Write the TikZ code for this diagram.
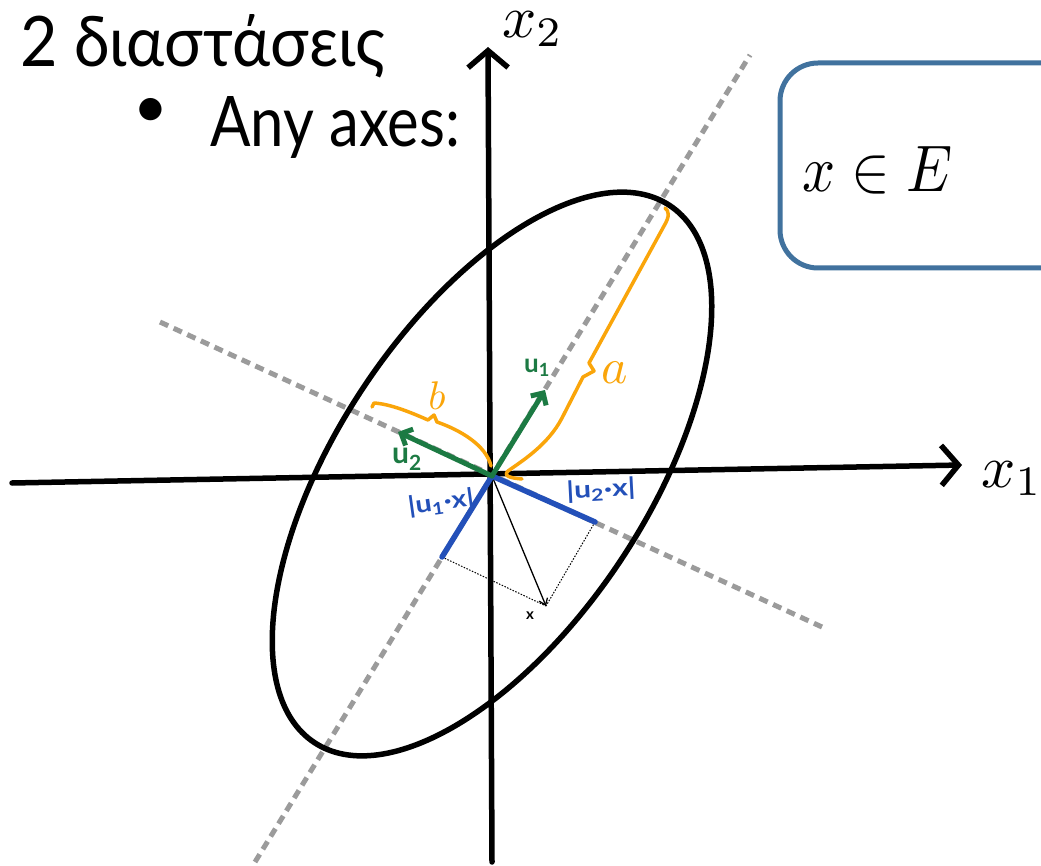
\documentclass[tikz,border=0pt]{standalone}
\usepackage{fontspec}
\setmainfont{Lato}
\usepackage{graphicx}
\usetikzlibrary{arrows.meta}
\definecolor{axgray}{RGB}{155,155,155}
\definecolor{hgreen}{RGB}{28,122,67}
\definecolor{hblue}{RGB}{35,80,185}
\definecolor{horange}{RGB}{250,165,10}
\definecolor{boxblue}{RGB}{65,114,158}
\begin{document}
\begin{tikzpicture}[x=1pt,y=-1pt,
  axisline/.style={line width=5.5pt,line cap=round,line join=round,-{Straight Barb[length=17pt,width=40pt]}},
  dashaxis/.style={axgray,line width=5pt,dash pattern=on 9pt off 6pt},
  ellline/.style={line width=5.5pt},
  vecg/.style={hgreen,line width=5pt,line cap=round,-{Straight Barb[length=9pt,width=18pt]}},
  projb/.style={hblue,line width=5.5pt,line cap=round},
  bracehand/.style={horange,line width=3.5pt,line cap=round,line join=round},
  dotl/.style={black,line width=1pt,dash pattern=on 1.5pt off 1.5pt},
  thinarrow/.style={black,line width=1.3pt,-{Straight Barb[length=6pt,width=9pt]}},
  hand/.style={inner sep=0pt},
  setbox/.style={boxblue,line width=5pt,rounded corners=38pt},
]
\clip (0,0) rectangle (1041,866);
\fill[white] (0,0) rectangle (1041,866);

% coordinates
\coordinate (O) at (492,476);
\coordinate (E0) at (492,474);
\coordinate (X1a) at (12,483);
\coordinate (X1b) at (962,465);
\coordinate (X2a) at (492,862);
\coordinate (X2b) at (488,47);
\coordinate (Ma) at (255,862);
\coordinate (Mb) at (750,55);
\coordinate (Na) at (160,322);
\coordinate (Nb) at (822,627);
\coordinate (U1) at (545,390);
\coordinate (U2) at (398,432);
\coordinate (P1) at (442,557);
\coordinate (P2) at (595,522);
\coordinate (X) at (546,606);

% dashed principal axes
\draw[dashaxis] (Ma) -- (Mb);
\draw[dashaxis] (Na) -- (Nb);

% ellipse
\draw[ellline, rotate around={56.5:(E0)}] (E0) ellipse [x radius=322pt, y radius=155pt];

% coordinate axes
\draw[axisline] (X1a) -- (X1b);
\draw[axisline] (X2a) -- (X2b);

% projections
\draw[dotl] (P1) -- (X);
\draw[dotl] (P2) -- (X);
\draw[thinarrow] (O) -- (X);
\draw[projb] (O) -- (P1);
\draw[projb] (O) -- (P2);

% orange braces
\draw[bracehand] (522,479) .. controls (510,478) and (503,476) .. (508,471)
   .. controls (522,461) and (548,445) .. (562,418) -- (583,377) -- (594,371) -- (589,363)
   -- (664,226) .. controls (670,216) and (669,211) .. (665,208);
\draw[bracehand] (372,407) -- (374,403) .. controls (390,404) and (410,412) .. (428,420)
   -- (434,415) -- (437,422) .. controls (460,430) and (486,445) .. (491,466);

% unit vectors
\draw[vecg] (O) -- (U1);
\draw[vecg] (O) -- (U2);

% labels
\node[hand,hgreen,font=\fontsize{26}{26}\selectfont\bfseries] (lu1) at (537,368) {u\textsubscript{1}};
\node[hand,hgreen,font=\fontsize{30}{30}\selectfont\bfseries] (lu2) at (407,459) {u\textsubscript{2}};
\node[hand,hblue,rotate=8,font=\fontsize{24}{24}\selectfont\bfseries] (lp1) at (441,503) {\scalebox{1.2}[1]{|u\textsubscript{1}·x|}};
\node[hand,hblue,rotate=3,font=\fontsize{24}{24}\selectfont\bfseries] (lp2) at (601,490) {\scalebox{1.25}[1]{|u\textsubscript{2}·x|}};
\node[hand,font=\fontsize{15}{15}\selectfont\bfseries] (lx) at (530,616) {x};
\node[hand,horange] (la) at (615,373) {\scalebox{5}{$a$}};
\node[hand,horange] (lb) at (437,396) {\scalebox{4}{$b$}};
\node[hand,anchor=base west] (lx1) at (981,487) {\scalebox{6}{$x_1$}};
\node[hand,anchor=base west] (lx2) at (502,38) {\scalebox{6}{$x_2$}};

% texts
\node[anchor=base west,inner sep=0pt] (title) at (20,67) {\resizebox{365pt}{52pt}{2 διαστάσεις}};
\node[inner sep=0pt] (bul) at (151,113) {\fontsize{60}{60}\selectfont •};
\node[anchor=base west,inner sep=0pt] (any) at (210,147) {\resizebox{250pt}{50pt}{Any axes:}};

% set box
\draw[setbox] (780,63) rectangle (1120,268);
\node[anchor=base west,inner sep=0pt] (set) at (802,192) {\resizebox{150pt}{45pt}{$x\in E$}};
\end{tikzpicture}
\end{document}
